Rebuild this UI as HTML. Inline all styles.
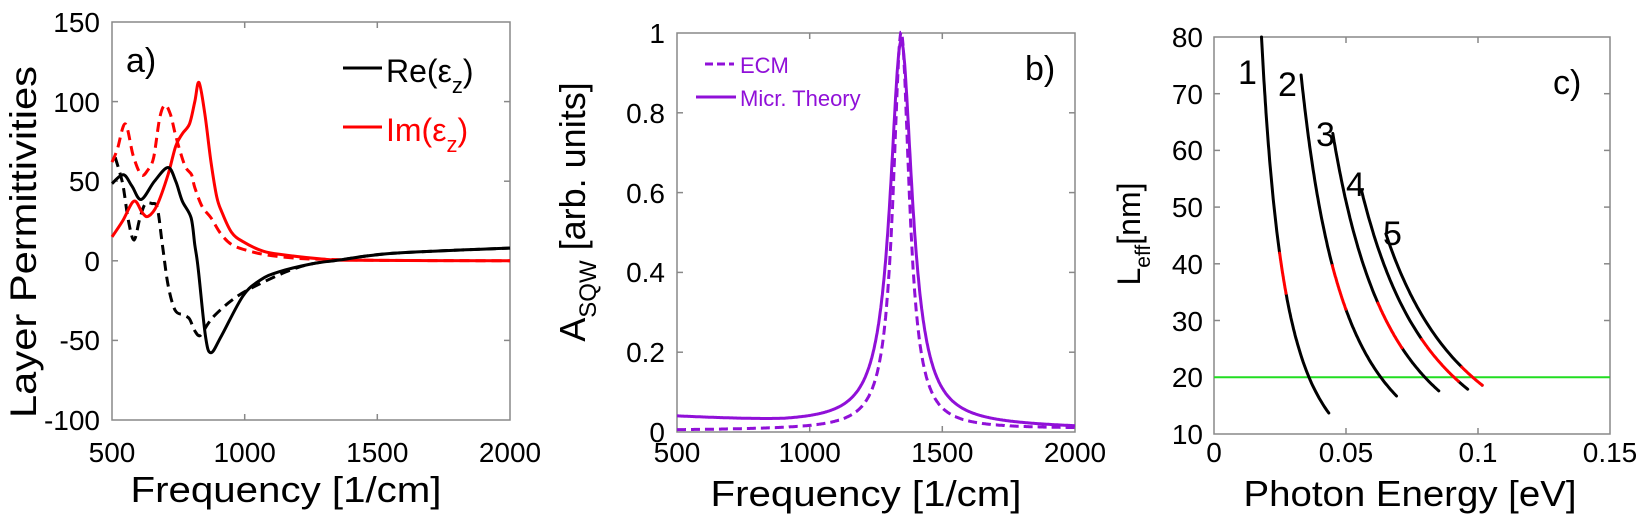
<!DOCTYPE html>
<html><head><meta charset="utf-8"><style>
html,body{margin:0;padding:0;background:#fff;}
svg{display:block;font-family:"Liberation Sans","DejaVu Sans",sans-serif;}
</style></head><body>
<svg id="s" width="1650" height="526" viewBox="0 0 1650 526" xmlns="http://www.w3.org/2000/svg">
<g id="g"></g>
<!-- Panel a text -->
<g font-size="28" fill="#000" text-anchor="end">
<text x="100" y="32">150</text><text x="100" y="112">100</text><text x="100" y="191">50</text>
<text x="100" y="271">0</text><text x="100" y="350">-50</text><text x="100" y="430">-100</text>
</g>
<g font-size="28" fill="#000" text-anchor="middle">
<text x="112" y="462">500</text><text x="244.7" y="462">1000</text><text x="377.3" y="462">1500</text><text x="510" y="462">2000</text>
</g>
<text x="286" y="502" font-size="36" text-anchor="middle" textLength="311" lengthAdjust="spacingAndGlyphs">Frequency [1/cm]</text>
<text transform="translate(36,242) rotate(-90)" font-size="37" text-anchor="middle" textLength="352" lengthAdjust="spacingAndGlyphs">Layer Permittivities</text>
<text x="126" y="72" font-size="34">a)</text>
<line x1="343" y1="68" x2="382" y2="68" stroke="#000" stroke-width="3"/>
<text x="386" y="82" font-size="32">Re(ε<tspan font-size="22" dy="11">z</tspan><tspan dy="-11">)</tspan></text>
<line x1="343" y1="127" x2="382" y2="127" stroke="#f00" stroke-width="3"/>
<text x="386" y="141" font-size="32" fill="#f00">Im(ε<tspan font-size="22" dy="11">z</tspan><tspan dy="-11">)</tspan></text>
<!-- Panel b text -->
<g font-size="28" fill="#000" text-anchor="end">
<text x="665" y="43">1</text><text x="665" y="123">0.8</text><text x="665" y="203">0.6</text>
<text x="665" y="282">0.4</text><text x="665" y="362">0.2</text><text x="665" y="442">0</text>
</g>
<g font-size="28" fill="#000" text-anchor="middle">
<text x="677" y="462">500</text><text x="809.7" y="462">1000</text><text x="942.3" y="462">1500</text><text x="1075" y="462">2000</text>
</g>
<text x="866" y="506" font-size="36" text-anchor="middle" textLength="311" lengthAdjust="spacingAndGlyphs">Frequency [1/cm]</text>
<text transform="translate(585,212) rotate(-90)" font-size="36" text-anchor="middle">A<tspan font-size="24" dy="11">SQW</tspan><tspan dy="-11"> [arb. units]</tspan></text>
<text x="1025" y="80" font-size="34">b)</text>
<line x1="705" y1="64" x2="734" y2="64" stroke="#9010d8" stroke-width="3" stroke-dasharray="8,4"/>
<line x1="696" y1="97" x2="736" y2="97" stroke="#9010d8" stroke-width="3"/>
<text x="740" y="73" font-size="22" fill="#9010d8">ECM</text>
<text x="740" y="106" font-size="22" fill="#9010d8">Micr. Theory</text>
<!-- Panel c text -->
<g font-size="28" fill="#000" text-anchor="end">
<text x="1203" y="47">80</text><text x="1203" y="104">70</text><text x="1203" y="160">60</text>
<text x="1203" y="217">50</text><text x="1203" y="274">40</text><text x="1203" y="331">30</text>
<text x="1203" y="387">20</text><text x="1203" y="444">10</text>
</g>
<g font-size="28" fill="#000" text-anchor="middle">
<text x="1214" y="462">0</text><text x="1346" y="462">0.05</text><text x="1478" y="462">0.1</text><text x="1610" y="462">0.15</text>
</g>
<text x="1410" y="506" font-size="36" text-anchor="middle" textLength="333" lengthAdjust="spacingAndGlyphs">Photon Energy [eV]</text>
<text transform="translate(1140,234) rotate(-90)" font-size="32" text-anchor="middle">L<tspan font-size="21" dy="10">eff</tspan><tspan dy="-10">[nm]</tspan></text>
<text x="1553" y="94" font-size="34">c)</text>
<g font-size="34">
<text x="1238" y="84">1</text><text x="1278" y="96">2</text><text x="1316" y="146">3</text>
<text x="1346" y="196">4</text><text x="1383" y="245">5</text>
</g>
</svg>
<script>
var g=document.getElementById('g');
function el(t,a){var e=document.createElementNS('http://www.w3.org/2000/svg',t);for(var k in a)e.setAttribute(k,a[k]);g.appendChild(e);return e;}
function cr(p){var d='M'+p[0][0].toFixed(1)+','+p[0][1].toFixed(1);for(var i=0;i<p.length-1;i++){var p0=p[i-1]||p[i],p1=p[i],p2=p[i+1],p3=p[i+2]||p2;
d+=' C'+(p1[0]+(p2[0]-p0[0])/6).toFixed(1)+','+(p1[1]+(p2[1]-p0[1])/6).toFixed(1)+' '+(p2[0]-(p3[0]-p1[0])/6).toFixed(1)+','+(p2[1]-(p3[1]-p1[1])/6).toFixed(1)+' '+p2[0].toFixed(1)+','+p2[1].toFixed(1);}return d;}
function poly(p){return 'M'+p.map(function(q){return q[0].toFixed(1)+','+q[1].toFixed(1)}).join(' L');}
function axes(x0,x1,y0,y1,xt,yt){
 el('rect',{x:x0,y:y0,width:x1-x0,height:y1-y0,fill:'none',stroke:'#888','stroke-width':1.5});
 xt.forEach(function(x){el('line',{x1:x,x2:x,y1:y1,y2:y1-6,stroke:'#888','stroke-width':1.5});el('line',{x1:x,x2:x,y1:y0,y2:y0+6,stroke:'#888','stroke-width':1.5});});
 yt.forEach(function(y){el('line',{x1:x0,x2:x0+6,y1:y,y2:y,stroke:'#888','stroke-width':1.5});el('line',{x1:x1,x2:x1-6,y1:y,y2:y,stroke:'#888','stroke-width':1.5});});
}
function ax(f){return 112+(f-500)*398/1500;} function ay(v){return 22+(150-v)*398/250;}
axes(112,510,22,420,[244.7,377.3],[101.6,181.2,260.8,340.4]);
function A(pts){return pts.map(function(q){return [ax(q[0]),ay(q[1])];});}
var reS=[[500,48.5],[543,54],[575,47],[610,38.5],[660,50],[711,58.6],[740,50],[765,37.5],[798,27],[812,10],[825,-5],[852,-47],[873,-57.7],[913,-47],[994,-22],[1060,-12],[1128,-7],[1250,-2],[1357,0.5],[1559,4.7],[2000,8]];
var reD=[[512,65],[530,55],[543,46],[562,25],[583,13],[604,26],[624,35.4],[650,36],[671,33],[690,10],[711,-15],[738,-31],[770,-34],[792,-36.5],[812,-44],[832,-47],[860,-40],[886,-34.5],[950,-25],[1021,-17.5],[1155,-7],[1250,-2],[1357,0.5],[1559,4.7],[2000,8]];
var imS=[[500,15],[540,25],[583,37.5],[615,30],[637,28],[670,35],[711,54],[740,72],[765,79.8],[792,86],[812,100],[828,112],[850,92],[873,62],[895,40],[913,31],[950,18],[994,12],[1070,6],[1155,3.6],[1300,1],[1424,0.3],[2000,0]];
var imD=[[500,62],[520,70],[550,86],[580,66],[610,54],[635,57],[657,65],[680,90],[700,97.8],[720,92],[738,80],[758,68],[778,58.6],[800,54],[812,46],[840,34],[873,27],[910,17],[953,10],[1020,6],[1088,3.6],[1200,1.5],[1290,1],[1500,0.3],[2000,0]];
el('path',{d:cr(A(reD)),fill:'none',stroke:'#000','stroke-width':3,'stroke-dasharray':'10,6'});
el('path',{d:cr(A(imD)),fill:'none',stroke:'#f00','stroke-width':3,'stroke-dasharray':'10,6'});
el('path',{d:cr(A(imS)),fill:'none',stroke:'#f00','stroke-width':3});
el('path',{d:cr(A(reS)),fill:'none',stroke:'#000','stroke-width':3});
function bx(f){return 677+(f-500)*398/1500;} function by(v){return 432-v*399;}
axes(677,1075,33,432,[809.7,942.3],[112.8,192.6,272.4,352.2]);
var ps=[],pd=[];
for(var f=500;f<=2000;f+=2){
 var Ls=2601/((f-1345)*(f-1345)+2601), Ld=1369/((f-1345)*(f-1345)+1369);
 var bg=f<900?0.037-0.015*(f-500)/400:0.022-0.012*(f-900)/1100;
 var s=Ls*(1-0.02)+bg*(1-Ls); var d=Ld+0.004*(1-Ld)+0.004*(f-500)/1500;
 ps.push([bx(f),by(s)]);pd.push([bx(f),by(d)]);}
el('path',{d:poly(pd),fill:'none',stroke:'#9010d8','stroke-width':3,'stroke-dasharray':'9,5'});
el('path',{d:poly(ps),fill:'none',stroke:'#9010d8','stroke-width':3});
function cx(e){return 1214+e/0.15*396;} function cy(v){return 37+(80-v)*5.671;}
axes(1214,1610,37,434,[1346,1478],[93.7,150.4,207.1,263.8,320.5,377.2]);
el('line',{x1:1214,x2:1610,y1:cy(20),y2:cy(20),stroke:'#22dd22','stroke-width':2});
var cur=[[0.0259,80,13.7,41.9,34.8],[0.0798,73.3,16.7,39.7,32],[0.1276,63,17.6,33.1,25.2],[0.1653,52.9,17.9,26.7,19.3],[0.192,45.3,18.6,21.8,18.6]];
cur.forEach(function(c){
 function seg(a,b,col){var p=[];for(var i=0;i<=40;i++){var L=a+(b-a)*i/40;p.push([cx(Math.sqrt(c[0]/L)),cy(L)]);}el('path',{d:poly(p),fill:'none',stroke:col,'stroke-width':3,'stroke-linecap':'round'});}
 seg(c[1],c[3],'#000');seg(c[4],c[2],'#000');seg(c[3],c[4],'#f00');
});
</script>
</body></html>
